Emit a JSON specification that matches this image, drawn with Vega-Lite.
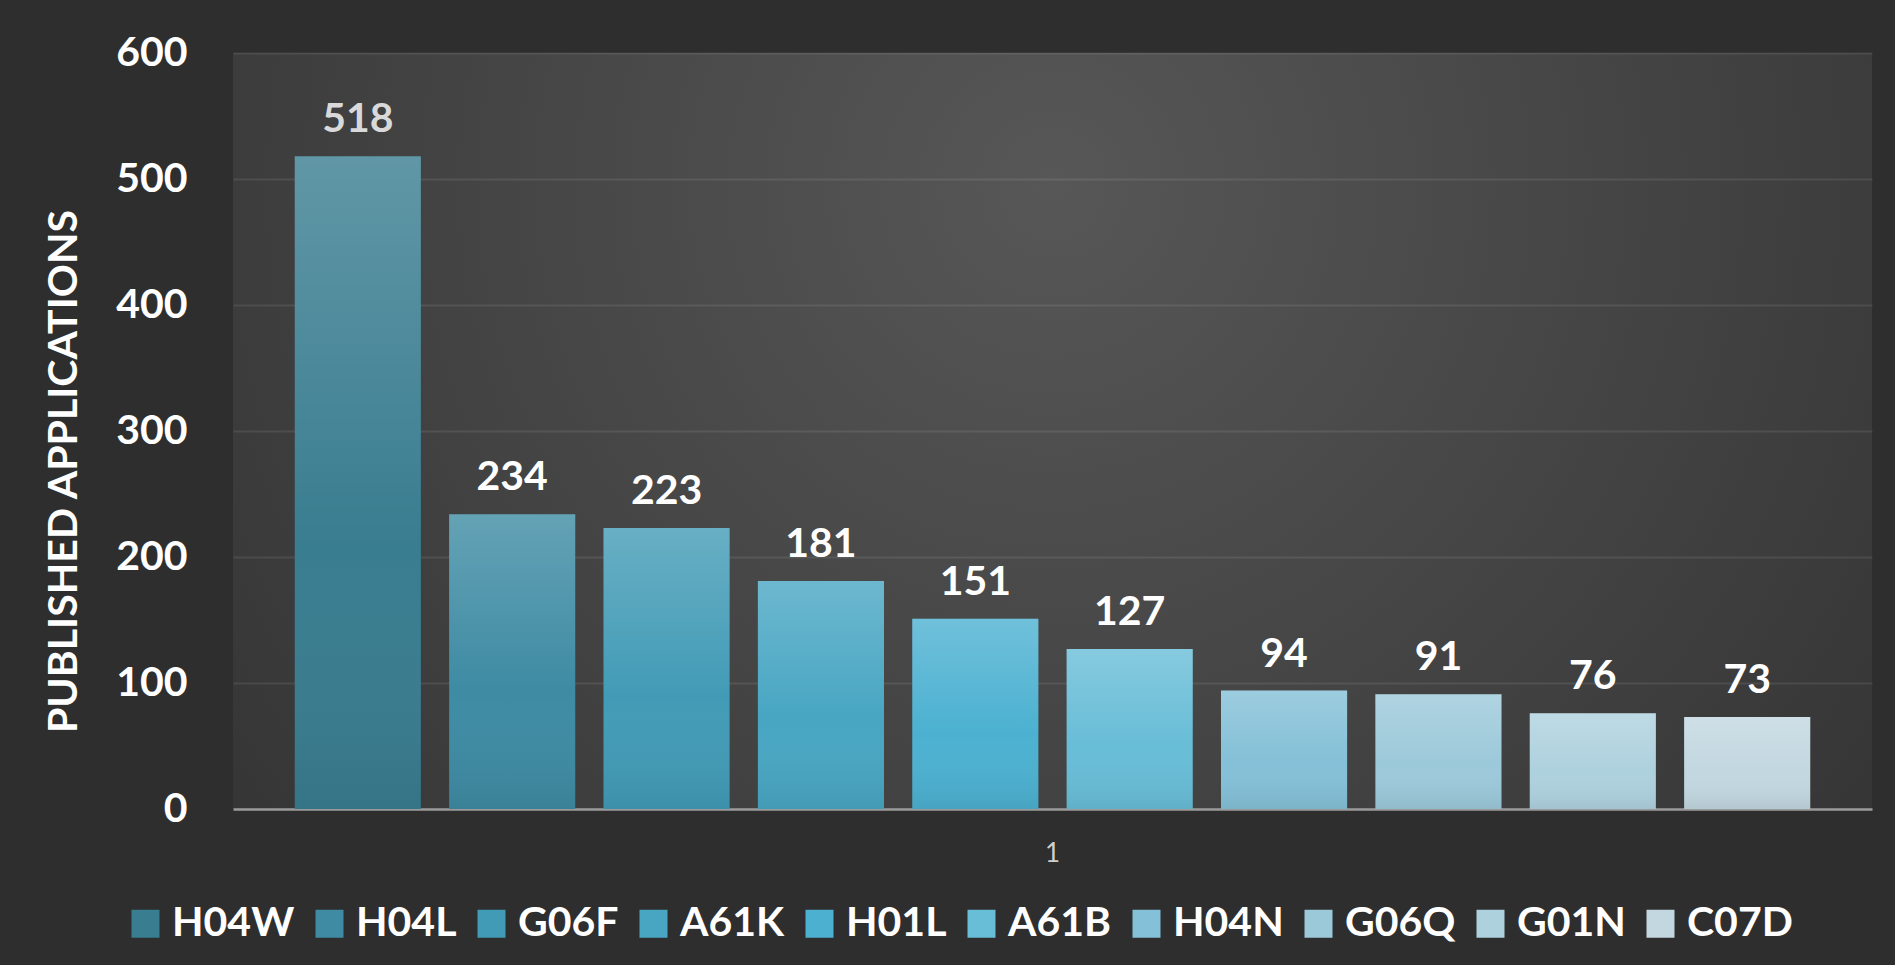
{
  "$schema": "https://vega.github.io/schema/vega-lite/v6.json",
  "autosize": {"type": "none"},
  "width": 1639,
  "height": 756,
  "padding": {"left": 233, "top": 53, "right": 23, "bottom": 156},
  "background": "#2e2e2e",
  "config": {
    "view": {
      "stroke": null,
      "fill": {
        "gradient": "radial",
        "x1": 0.5, "y1": 0.35, "r1": 0,
        "x2": 0.5, "y2": 0.35, "r2": 0.75,
        "stops": [
          {"offset": 0, "color": "#575757"},
          {"offset": 1, "color": "#2f2f2f"}
        ]
      }
    },
    "font": "Lato"
  },
  "data": {
    "values": [
      {"cat": "1", "series": "H04W", "value": 518},
      {"cat": "1", "series": "H04L", "value": 234},
      {"cat": "1", "series": "G06F", "value": 223},
      {"cat": "1", "series": "A61K", "value": 181},
      {"cat": "1", "series": "H01L", "value": 151},
      {"cat": "1", "series": "A61B", "value": 127},
      {"cat": "1", "series": "H04N", "value": 94},
      {"cat": "1", "series": "G06Q", "value": 91},
      {"cat": "1", "series": "G01N", "value": 76},
      {"cat": "1", "series": "C07D", "value": 73}
    ]
  },
  "encoding": {
    "x": {
      "field": "cat", "type": "nominal",
      "scale": {"paddingInner": 0, "paddingOuter": 0},
      "axis": {
        "title": null, "labelAngle": 0, "ticks": false,
        "labelFontSize": 26, "labelColor": "#cfcfcf", "labelFont": "Lato",
        "labelPadding": 31, "domainColor": "#9a9a9a", "domainWidth": 2.5
      }
    },
    "xOffset": {
      "field": "series", "type": "nominal", "sort": null,
      "scale": {"paddingInner": 0.183, "paddingOuter": 0.4}
    },
    "y": {
      "field": "value", "type": "quantitative",
      "scale": {"domain": [0, 600]},
      "axis": {
        "values": [0, 100, 200, 300, 400, 500, 600],
        "title": "PUBLISHED APPLICATIONS",
        "titleFont": "Lato", "titleFontSize": 41, "titleFontWeight": "bold",
        "titleColor": "#ffffff", "titlePadding": 30, "titleY": 418,
        "labelFont": "Lato", "labelFontSize": 41, "labelFontWeight": "bold",
        "labelColor": "#ffffff", "labelPadding": 46,
        "ticks": false, "domain": false,
        "gridColor": "#ffffff", "gridOpacity": 0.09, "gridWidth": 2
      }
    }
  },
  "layer": [
    {
      "mark": {"type": "bar"},
      "encoding": {
        "color": {
          "field": "series", "type": "nominal", "sort": null,
          "scale": {
            "range": ["#397d90", "#3e8ba3", "#429bb6", "#48a6c3", "#4cb1d1", "#68bdd7", "#84c0d7", "#9cc9da", "#aed1de", "#c2d7e0"]
          },
          "legend": {
            "orient": "none", "legendX": -108, "legendY": 850,
            "direction": "horizontal", "columns": 10, "title": null,
            "symbolType": "square", "symbolSize": 784, "symbolStrokeWidth": 0,
            "symbolOpacity": 1,
            "labelFont": "Lato", "labelFontSize": 41, "labelFontWeight": "bold",
            "labelColor": "#ffffff", "labelOffset": 6, "columnPadding": 14,
            "labelLimit": 400
          }
        }
      }
    },
    {
      "mark": {
        "type": "bar",
        "color": {
          "gradient": "linear", "x1": 0, "y1": 0, "x2": 0, "y2": 1,
          "stops": [
            {"offset": 0, "color": "rgba(255,255,255,0.2)"},
            {"offset": 0.6, "color": "rgba(255,255,255,0)"},
            {"offset": 1, "color": "rgba(0,0,0,0.07)"}
          ]
        }
      }
    },
    {
      "mark": {"type": "text", "baseline": "alphabetic", "dy": -24, "font": "Lato", "fontSize": 41, "fontWeight": "bold"},
      "encoding": {
        "text": {"field": "value", "type": "quantitative"},
        "color": {"condition": {"test": "datum.value > 500", "value": "#d9d9d9"}, "value": "#ffffff"}
      }
    }
  ]
}
